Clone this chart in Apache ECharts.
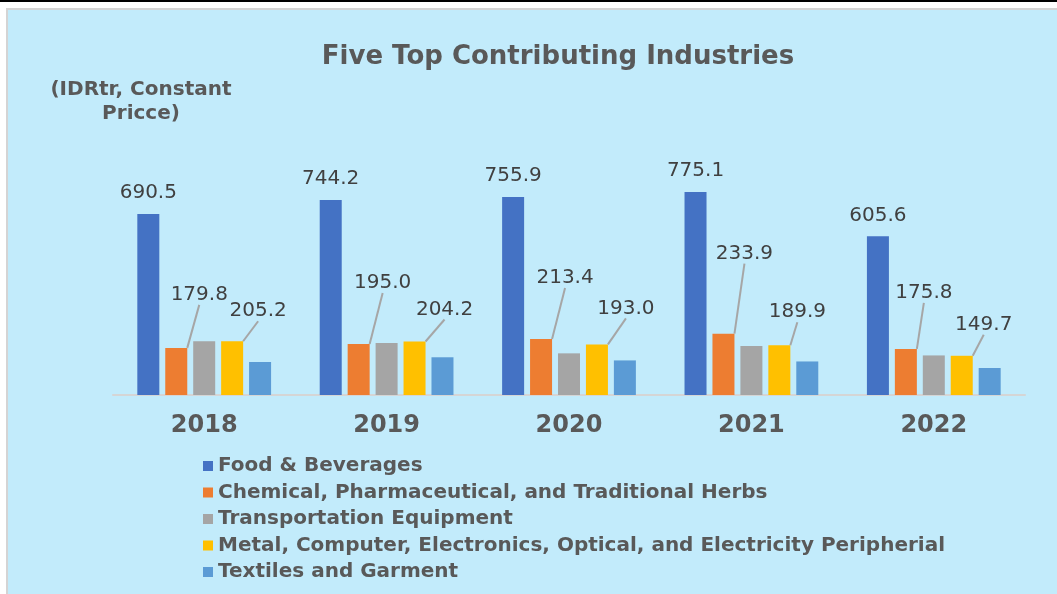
<!DOCTYPE html>
<html>
<head>
<meta charset="utf-8">
<script src="https://cdn.jsdelivr.net/npm/echarts@6/dist/echarts.min.js"></script>
<style>
  html, body { margin: 0; padding: 0; background: #fff; }
  #topline { position: absolute; left: 0; top: 0; width: 1057px; height: 2px; background: #000; }
  #frame { position: absolute; left: 6px; top: 8px; width: 1051px; height: 586px;
           box-sizing: border-box; border-left: 2px solid #d4d4d4; border-top: 2px solid #d4d4d4;
           background: #c2ebfb; }
  #chart { position: absolute; left: 0; top: 0; width: 1057px; height: 594px; }
</style>
</head>
<body>
<div id="topline"></div>
<div id="frame"></div>
<div id="chart"></div>
<script>
// 数据
var years = ['2018', '2019', '2020', '2021', '2022'];
var food = [690.5, 744.2, 755.9, 775.1, 605.6];
var chemical = [179.8, 195.0, 213.4, 233.9, 175.8];
var transport = [205, 198, 159, 187, 151];
var metal = [205.2, 204.2, 193.0, 189.9, 149.7];
var textiles = [126, 144, 132, 128, 103];

// 标签偏移（相对柱顶中心）
var chemOffsets = [[23, -53], [24, -61], [24, -61], [21, -80], [18, -56]];
var metalOffsets = [[26, -30], [30, -32], [29, -36], [18, -33], [22, -31]];

var textColor = '#595959';
var labelColor = '#404040';
var font = 'DejaVu Sans';

function moveLabel(offsets) {
  return function (p) {
    var off = offsets[p.dataIndex];
    var cx = p.rect.x + p.rect.width / 2;
    var ty = p.rect.y;
    var lx = cx + off[0], ly = ty + off[1];
    var ex = lx - 1, ey = ly + 15;
    return {
      x: lx, y: ly, align: 'center', verticalAlign: 'middle',
      labelLinePoints: [[cx, ty], [(cx + ex) / 2, (ty + ey) / 2], [ex, ey]]
    };
  };
}

var movedLabel = {
  show: true,
  position: 'top',
  color: labelColor,
  fontSize: 20,
  fontFamily: font,
  formatter: function (p) { return p.value.toFixed(1); }
};
var guide = { show: true, lineStyle: { color: '#a6a6a6', width: 2 } };

var Chart = echarts.init(document.getElementById('chart'));
var option = {
  animation: false,
  title: [{
    text: 'Five Top Contributing Industries',
    left: 553, top: 39, textAlign: 'center',
    textStyle: { color: textColor, fontSize: 26, fontWeight: 'bold', fontFamily: font }
  }, {
    text: '(IDRtr, Constant\nPricce)',
    left: 136, top: 73, textAlign: 'center',
    textStyle: { color: textColor, fontSize: 20, fontWeight: 'bold', fontFamily: font, lineHeight: 24, align: 'center' }
  }],
  legend: {
    orient: 'vertical',
    left: 198, top: 451,
    itemWidth: 10, itemHeight: 10, itemGap: 6.5,
    icon: 'rect',
    textStyle: { color: textColor, fontSize: 20, fontWeight: 'bold', fontFamily: font }
  },
  grid: { left: 113, right: 32, top: 133, bottom: 199 },
  xAxis: {
    type: 'category',
    data: years,
    axisLine: { show: true, lineStyle: { color: '#d5d5d5', width: 2 } },
    axisTick: { show: false },
    axisLabel: { color: textColor, fontSize: 24, fontWeight: 'bold', fontFamily: font, margin: 19 }
  },
  yAxis: {
    type: 'value', min: 0, max: 1000,
    show: false,
    splitLine: { show: false }
  },
  series: [{
    name: 'Food & Beverages', type: 'bar', data: food,
    barWidth: 22, barGap: '27%',
    itemStyle: { color: '#4472c4' },
    label: { show: true, position: 'top', distance: 11, color: labelColor, fontSize: 20, fontFamily: font,
             formatter: function (p) { return p.value.toFixed(1); } }
  }, {
    name: 'Chemical, Pharmaceutical, and Traditional Herbs', type: 'bar', data: chemical,
    barWidth: 22, barGap: '27%',
    itemStyle: { color: '#ed7d31' },
    label: movedLabel, labelLine: guide,
    labelLayout: moveLabel(chemOffsets)
  }, {
    name: 'Transportation Equipment', type: 'bar', data: transport,
    barWidth: 22, barGap: '27%',
    itemStyle: { color: '#a5a5a5' }
  }, {
    name: 'Metal, Computer, Electronics, Optical, and Electricity Peripherial', type: 'bar', data: metal,
    barWidth: 22, barGap: '27%',
    itemStyle: { color: '#ffc000' },
    label: movedLabel, labelLine: guide,
    labelLayout: moveLabel(metalOffsets)
  }, {
    name: 'Textiles and Garment', type: 'bar', data: textiles,
    barWidth: 22, barGap: '27%',
    itemStyle: { color: '#5b9bd5' }
  }]
};
Chart.setOption(option);
</script>
</body>
</html>
